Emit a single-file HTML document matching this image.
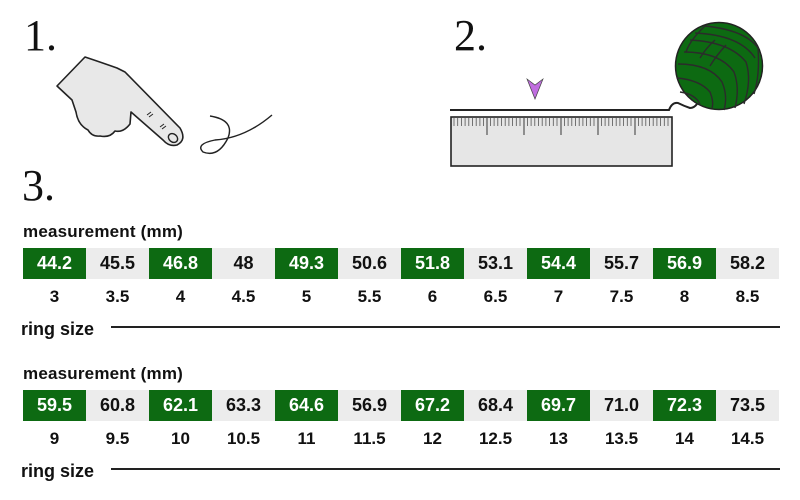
<!DOCTYPE html>
<html><head><meta charset="utf-8"><style>
body{margin:0;background:#fff;}
#c{position:relative;width:800px;height:500px;overflow:hidden;font-family:"Liberation Sans",sans-serif;}
.lbl{position:absolute;left:23px;font-weight:bold;font-size:17px;color:#111;letter-spacing:0.2px;}
.row{position:absolute;left:23px;display:flex;}
.row div{width:63px;height:31px;line-height:31px;text-align:center;font-size:18px;font-weight:bold;}
.g{background:#0d6a12;color:#fff;}
.w{background:#ececec;color:#111;}
.nums{position:absolute;left:23px;display:flex;}
.nums div{width:63px;text-align:center;font-size:17px;font-weight:bold;color:#111;}
.rs{position:absolute;left:21px;font-size:18px;font-weight:bold;color:#111;}
.ln{position:absolute;left:111px;width:669px;height:2px;background:#222;}
.big{position:absolute;font-family:"Liberation Serif",serif;font-size:44px;color:#111;}
</style></head><body><div id="c">
<div class="big" style="left:24px;top:10px">1.</div>
<div class="big" style="left:454px;top:10px">2.</div>
<div class="big" style="left:22px;top:160px">3.</div>
<svg width="800" height="210" style="position:absolute;left:0;top:0">
<path d="M57,86 L85,57 Q100,62 117,68 L125,72 L180,128 Q187,140 177,145 Q169,147 163,140 L131,112 L130,124 Q123,133 115,131 Q110,138 100,136 Q92,137 88,130 Q78,125 76,112 L72,100 Z" fill="#e8e8e8" stroke="#222" stroke-width="1.6" stroke-linejoin="round"/>
<ellipse cx="173" cy="138" rx="5" ry="4" transform="rotate(40 173 138)" fill="none" stroke="#222" stroke-width="1.4"/>
<path d="M147,115 l4,-3 M149,117 l4,-3 M160,127 l4,-3 M162,129 l4,-3" stroke="#222" stroke-width="1"/>
<path d="M210,116 Q235,120 228,138 Q218,158 203,152 Q195,144 215,140 Q245,138 272,115" fill="none" stroke="#222" stroke-width="1.4"/>
<path d="M450,110 L669,110 Q672,102 678,103 Q684,106 690,108 Q694,108 697,104" fill="none" stroke="#222" stroke-width="2"/>
<rect x="451" y="117" width="221" height="49" fill="#e6e6e6" stroke="#222" stroke-width="1.6"/>
<g stroke="#555" stroke-width="0.8">
<path d="M454,118v8 M457.7,118v8 M461.4,118v8 M465.1,118v8 M468.8,118v8 M472.5,118v8 M476.2,118v8 M479.9,118v8 M483.6,118v8 M490.4,118v8 M494.1,118v8 M497.8,118v8 M501.5,118v8 M505.2,118v8 M508.9,118v8 M512.6,118v8 M516.3,118v8 M520,118v8 M527.4,118v8 M531.1,118v8 M534.8,118v8 M538.5,118v8 M542.2,118v8 M545.9,118v8 M549.6,118v8 M553.3,118v8 M557,118v8 M564.4,118v8 M568.1,118v8 M571.8,118v8 M575.5,118v8 M579.2,118v8 M582.9,118v8 M586.6,118v8 M590.3,118v8 M594,118v8 M601.4,118v8 M605.1,118v8 M608.8,118v8 M612.5,118v8 M616.2,118v8 M619.9,118v8 M623.6,118v8 M627.3,118v8 M631,118v8 M638.4,118v8 M642.1,118v8 M645.8,118v8 M649.5,118v8 M653.2,118v8 M656.9,118v8 M660.6,118v8 M664.3,118v8 M668,118v8"/>
<path d="M487,118v17 M524,118v17 M561,118v17 M598,118v17 M635,118v17" stroke-width="1.2"/>
</g>
<path d="M527,79 L535,85 L543,79 L535,99 Z" fill="#c06ee0" stroke="#444" stroke-width="0.7"/>
<circle cx="719" cy="66" r="43.5" fill="#0d6a12" stroke="#222" stroke-width="1.5"/>
<g fill="none" stroke="#2b2b2b" stroke-width="1.4">
<path d="M705,26 Q745,30 758,48 M695,33 Q740,35 755,58 M690,40 Q730,42 746,62 Q752,80 744,104 M684,52 Q720,52 734,72 Q740,88 735,108 M678,64 Q710,64 722,82 Q728,96 724,110 M677,78 Q700,80 710,92 Q714,102 712,108 M680,92 Q695,94 700,104"/>
<path d="M705,26 Q690,40 686,52 M715,40 Q706,48 700,58 M726,45 Q716,56 710,66 M758,48 Q760,75 754,94"/>
</g>
</svg>
<div class="lbl" style="top:222px">measurement (mm)</div>
<div class="row" style="top:248px"><div class="g">44.2</div><div class="w">45.5</div><div class="g">46.8</div><div class="w">48</div><div class="g">49.3</div><div class="w">50.6</div><div class="g">51.8</div><div class="w">53.1</div><div class="g">54.4</div><div class="w">55.7</div><div class="g">56.9</div><div class="w">58.2</div></div>
<div class="nums" style="top:287px"><div>3</div><div>3.5</div><div>4</div><div>4.5</div><div>5</div><div>5.5</div><div>6</div><div>6.5</div><div>7</div><div>7.5</div><div>8</div><div>8.5</div></div>
<div class="rs" style="top:319px">ring size</div><div class="ln" style="top:326px"></div>
<div class="lbl" style="top:364px">measurement (mm)</div>
<div class="row" style="top:390px"><div class="g">59.5</div><div class="w">60.8</div><div class="g">62.1</div><div class="w">63.3</div><div class="g">64.6</div><div class="w">56.9</div><div class="g">67.2</div><div class="w">68.4</div><div class="g">69.7</div><div class="w">71.0</div><div class="g">72.3</div><div class="w">73.5</div></div>
<div class="nums" style="top:429px"><div>9</div><div>9.5</div><div>10</div><div>10.5</div><div>11</div><div>11.5</div><div>12</div><div>12.5</div><div>13</div><div>13.5</div><div>14</div><div>14.5</div></div>
<div class="rs" style="top:461px">ring size</div><div class="ln" style="top:468px"></div>
</div></body></html>
